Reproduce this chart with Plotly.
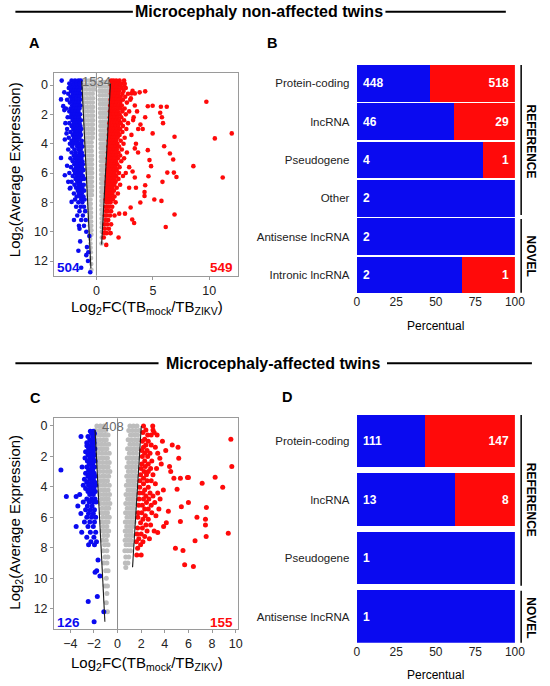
import plotly.graph_objects as go

W, H = 550, 686
FONT = "Liberation Sans, Arial, Helvetica, sans-serif"
BLUE = "#0a0af0"
RED = "#ff0a0a"
GRAY = "#bdbdbd"
NBSP = "\u00a0"

# ---------------- Panel A (volcano-like, non-affected) ----------------
a_gray_rows = [
    (-0.3, [-1.2, -0.92, -0.65, -0.4, -0.2]), (0.0, [-1.18, -0.9, -0.62, -0.38, -0.18]),
    (0.3, [-1.15, -0.88, -0.6, -0.36, -0.2]), (0.6, [-1.12, -0.85, -0.58, -0.33]),
    (0.9, [-1.1, -0.82, -0.55, -0.3]), (1.2, [-1.08, -0.8, -0.55, -0.32]),
    (1.5, [-1.06, -0.8, -0.52, -0.3]), (1.8, [-1.04, -0.76, -0.5, -0.32]),
    (2.1, [-1.02, -0.75, -0.5, -0.3]), (2.4, [-1.0, -0.74, -0.48, -0.3]),
    (2.7, [-0.98, -0.72, -0.47, -0.32]), (3.0, [-0.96, -0.7, -0.46, -0.3]),
    (3.3, [-0.95, -0.7, -0.45, -0.32]), (3.6, [-0.93, -0.68, -0.44, -0.33]),
    (3.9, [-0.92, -0.67, -0.43]), (4.2, [-0.9, -0.65, -0.42]), (4.5, [-0.88, -0.64, -0.42]),
    (4.8, [-0.86, -0.62, -0.4]), (5.1, [-0.85, -0.62, -0.4]), (5.4, [-0.83, -0.6, -0.4]),
    (5.7, [-0.82, -0.6, -0.4]), (6.0, [-0.8, -0.58, -0.38]), (6.3, [-0.78, -0.57, -0.4]),
    (6.6, [-0.76, -0.56, -0.4]), (6.9, [-0.75, -0.55, -0.4]), (7.2, [-0.73, -0.54, -0.4]),
    (7.5, [-0.72, -0.52, -0.4]), (7.8, [-0.7, -0.52]), (8.1, [-0.68, -0.5]), (8.4, [-0.66, -0.5]),
    (8.7, [-0.65, -0.48]), (9.0, [-0.63, -0.48]), (9.3, [-0.61, -0.47]), (9.6, [-0.6, -0.46]),
    (9.9, [-0.58, -0.45]), (10.2, [-0.56, -0.45]), (10.5, [-0.55]), (10.8, [-0.53]),
    (11.1, [-0.52]), (11.4, [-0.5]), (11.8, [-0.48]), (12.2, [-0.46]), (12.6, [-0.45]),
    (-0.2, [0.28, 0.52, 0.78, 1.02, 1.2]), (0.1, [0.27, 0.5, 0.75, 1.0, 1.18]),
    (0.4, [0.28, 0.52, 0.77, 0.98, 1.15]), (0.7, [0.3, 0.55, 0.78, 0.98, 1.13]),
    (1.0, [0.3, 0.53, 0.75, 0.95, 1.1]), (1.3, [0.32, 0.55, 0.76, 0.95, 1.08]),
    (1.6, [0.32, 0.55, 0.75, 0.93, 1.06]), (1.9, [0.33, 0.55, 0.75, 0.92, 1.04]),
    (2.2, [0.34, 0.56, 0.76, 0.92]), (2.5, [0.35, 0.56, 0.75, 0.9]), (2.8, [0.35, 0.56, 0.74, 0.88]),
    (3.1, [0.36, 0.56, 0.74, 0.88]), (3.4, [0.37, 0.56, 0.73, 0.86]), (3.7, [0.37, 0.56, 0.72, 0.85]),
    (4.0, [0.38, 0.56, 0.72, 0.84]), (4.3, [0.38, 0.56, 0.7, 0.82]), (4.6, [0.39, 0.56, 0.7, 0.8]),
    (4.9, [0.4, 0.56, 0.7, 0.8]), (5.2, [0.4, 0.55, 0.68, 0.78]), (5.5, [0.41, 0.55, 0.68]),
    (5.8, [0.41, 0.55, 0.68]), (6.1, [0.42, 0.55, 0.67]), (6.4, [0.42, 0.55, 0.66]),
    (6.7, [0.43, 0.54, 0.65]), (7.0, [0.43, 0.54, 0.64]), (7.3, [0.44, 0.54, 0.63]),
    (7.6, [0.44, 0.54, 0.62]), (7.9, [0.45, 0.54, 0.61]), (8.2, [0.45, 0.55]), (8.5, [0.45, 0.55]),
    (8.8, [0.46, 0.54]), (9.1, [0.46, 0.53]), (9.4, [0.47, 0.53]), (9.7, [0.47]), (10.0, [0.48]),
    (10.4, [0.47]), (10.8, [0.45]),
]

a_blue_rows = [
    (-0.3, [-2.2, -1.9, -1.6, -1.4]), (-0.1, [-2.4, -2.05, -1.75, -1.45]),
    (0.0, [-2.3, -2.0, -1.75, -1.5]), (0.2, [-2.45, -2.15, -1.9, -1.65, -1.42]),
    (0.4, [-2.25, -2.0, -1.8, -1.55]), (0.6, [-2.5, -2.1, -1.85, -1.6, -1.4]),
    (0.8, [-2.3, -2.0, -1.7, -1.5]), (1.0, [-2.6, -2.2, -1.95, -1.75, -1.45]),
    (1.2, [-2.35, -2.05, -1.8, -1.55]), (1.4, [-2.15, -1.9, -1.65, -1.42]),
    (1.6, [-2.7, -2.3, -2.0, -1.72, -1.5]), (1.8, [-2.4, -2.1, -1.85, -1.6]),
    (2.0, [-2.2, -1.95, -1.7, -1.45]), (2.2, [-2.55, -2.3, -2.0, -1.8, -1.55]),
    (2.4, [-2.1, -1.85, -1.6, -1.38]), (2.6, [-2.4, -2.0, -1.75, -1.5]),
    (2.8, [-2.2, -1.9, -1.65, -1.42]), (3.0, [-2.6, -2.05, -1.8, -1.55, -1.35]),
    (3.2, [-2.3, -1.95, -1.7, -1.45]), (3.4, [-2.1, -1.85, -1.6, -1.38]),
    (3.6, [-2.45, -2.0, -1.75, -1.5]), (3.8, [-2.2, -1.9, -1.65, -1.3]),
    (4.0, [-2.35, -2.05, -1.8, -1.55, -1.35]), (4.2, [-2.15, -1.7, -1.45, -1.25]),
    (4.4, [-2.5, -1.95, -1.6, -1.4]), (4.6, [-2.2, -1.85, -1.5, -1.3]),
    (4.8, [-2.0, -1.7, -1.45, -1.22]), (5.0, [-2.3, -1.9, -1.6, -1.35]),
    (5.2, [-2.1, -1.75, -1.5, -1.25]), (5.4, [-1.95, -1.65, -1.4, -1.2]),
    (5.6, [-2.25, -1.8, -1.55, -1.3]), (5.8, [-2.0, -1.7, -1.45, -1.15]),
    (6.0, [-2.4, -1.9, -1.6, -1.35]), (6.2, [-2.1, -1.75, -1.5, -1.2]),
    (6.4, [-1.85, -1.55, -1.3, -1.1]), (6.6, [-2.2, -1.7, -1.45]),
    (6.8, [-1.95, -1.6, -1.35, -1.12]), (7.0, [-2.3, -1.8, -1.5, -1.25]),
    (7.2, [-1.65, -1.4, -1.1]), (7.4, [-2.0, -1.55, -1.3]), (7.6, [-1.75, -1.45, -1.15]),
    (7.8, [-1.9, -1.35, -1.05]), (8.0, [-1.6, -1.25]), (8.3, [-1.8, -1.4, -1.1]),
    (8.6, [-1.5, -1.0]), (8.9, [-1.7, -1.2]), (9.2, [-1.35, -0.95]), (9.6, [-1.55, -1.1]),
    (10.0, [-0.9]),
    (-0.3, [-3.08]), (0.98, [-3.14]), (1.44, [-2.94]), (1.71, [-2.85]), (3.71, [-2.8]),
    (4.97, [-3.14]), (6.15, [-2.8]), (6.6, [-2.5]), (7.06, [-2.36]), (7.97, [-2.2]),
    (9.2, [-1.99]), (9.8, [-1.5]), (10.66, [-1.44]), (11.05, [-0.84]), (11.4, [-0.72]),
    (10.3, [-0.63]), (12.46, [-1.35]), (12.76, [-0.55]), (11.6, [-0.9]), (11.3, [-1.6]),
    (12.0, [-0.75]), (3.3, [-2.65]), (0.5, [-2.85]), (2.6, [-2.75]), (5.5, [-2.6]),
]

a_red_rows = [
    (-0.3, [1.3, 1.5, 1.75, 2.05, 2.45]), (-0.1, [1.35, 1.6, 1.9, 2.2, 2.5]),
    (0.0, [1.3, 1.55, 1.8, 2.1]), (0.2, [1.35, 1.6, 1.9, 2.25, 2.6]),
    (0.4, [1.3, 1.5, 1.75, 2.0, 2.4, 3.2]), (0.6, [1.28, 1.45, 1.7, 1.95, 2.3, 2.8]),
    (0.8, [1.35, 1.6, 1.85, 2.15, 2.55]), (1.0, [1.25, 1.5, 1.75, 2.0, 2.35, 3.0]),
    (1.2, [1.3, 1.55, 1.8, 2.1, 2.7]), (1.4, [1.22, 1.45, 1.7, 1.95, 2.25, 3.4]),
    (1.6, [1.3, 1.55, 1.85, 2.15, 2.5]), (1.8, [1.2, 1.42, 1.65, 1.9, 2.3, 2.9]),
    (2.0, [1.28, 1.5, 1.78, 2.05, 2.6]), (2.2, [1.18, 1.4, 1.62, 1.88, 2.2, 3.3]),
    (2.4, [1.25, 1.5, 1.75, 2.0, 2.45]), (2.6, [1.15, 1.38, 1.6, 1.85, 2.15, 2.8]),
    (2.8, [1.22, 1.45, 1.7, 1.95, 2.35]), (3.0, [1.12, 1.35, 1.55, 1.8, 2.1, 2.65]),
    (3.2, [1.2, 1.42, 1.65, 1.9, 2.3]), (3.4, [1.1, 1.3, 1.52, 1.78, 2.05, 3.1]),
    (3.6, [1.18, 1.4, 1.62, 1.88, 2.5]), (3.8, [1.08, 1.28, 1.5, 1.75, 2.15]),
    (4.0, [1.15, 1.35, 1.58, 1.85, 2.4, 3.5]), (4.2, [1.05, 1.25, 1.45, 1.7, 2.0]),
    (4.4, [1.12, 1.32, 1.55, 1.8, 2.25]), (4.6, [1.02, 1.22, 1.42, 1.65, 1.95, 2.7]),
    (4.8, [1.1, 1.3, 1.5, 1.75, 2.1]), (5.0, [1.0, 1.2, 1.4, 1.6, 1.9, 2.45]),
    (5.2, [1.08, 1.28, 1.48, 1.72, 2.2]), (5.4, [0.98, 1.15, 1.35, 1.58, 1.85]),
    (5.6, [1.05, 1.25, 1.45, 1.68, 2.05, 2.9]), (5.8, [0.95, 1.12, 1.32, 1.55, 1.8]),
    (6.0, [1.02, 1.2, 1.4, 1.62, 2.0]), (6.2, [0.92, 1.1, 1.3, 1.5, 1.75, 2.35]),
    (6.4, [0.98, 1.18, 1.38, 1.6, 1.95]), (6.6, [0.9, 1.05, 1.25, 1.45, 1.7]),
    (6.8, [0.95, 1.15, 1.35, 1.58, 2.1]), (7.0, [0.88, 1.02, 1.22, 1.42, 1.8]),
    (7.2, [0.92, 1.1, 1.3, 1.55]), (7.4, [0.85, 1.0, 1.2, 1.4, 1.9]),
    (7.6, [0.9, 1.08, 1.28, 1.6]), (7.8, [0.82, 0.98, 1.15, 1.45]),
    (8.0, [0.88, 1.05, 1.25, 1.7]), (8.3, [0.8, 0.95, 1.15, 1.4]),
    (8.6, [0.85, 1.02, 1.3]), (8.9, [0.75, 0.92, 1.2, 1.6]), (9.2, [0.8, 1.05]),
    (9.5, [0.72, 0.95, 1.3]), (9.8, [0.75, 1.1]), (10.1, [0.68, 0.9, 1.24]), (10.4, [0.65, 1.96]),
    (10.9, [0.87]),
    (0.0, [2.47]), (0.57, [3.11, 3.4]), (0.5, [3.83]), (0.43, [4.32]), (0.91, [3.05]),
    (1.14, [9.74]), (1.48, [5.71, 6.23]), (1.41, [4.98]), (1.45, [4.55]), (1.89, [5.65]),
    (2.2, [5.8, 4.32]), (2.6, [5.9]), (3.3, [4.98, 11.99]), (3.53, [6.92]), (2.39, [3.25]),
    (3.64, [10.49]), (4.17, [6.0]), (4.67, [6.51]), (5.08, [6.8]), (5.53, [8.59, 4.84]),
    (5.97, [6.28, 6.86]), (4.44, [4.55]), (5.12, [4.7]), (4.32, [3.4]), (4.6, [3.69]),
    (6.31, [11.19, 3.4]), (6.27, [7.09]), (6.6, [5.85]), (6.22, [4.61]), (6.83, [4.32]),
    (7.29, [4.26]), (7.81, [5.13]), (7.9, [5.76]), (7.57, [4.26]), (8.01, [3.89]),
    (8.83, [6.92]), (9.68, [6.14]), (9.41, [3.34]), (9.17, [3.17]), (8.35, [3.03]),
    (8.77, [2.53, 2.02]), (10.09, [1.24]), (3.0, [3.7, 4.1]), (1.8, [3.6]), (2.7, [3.9]),
    (5.9, [3.2]), (7.0, [2.9, 3.5]), (6.0, [2.6]),
]
a_line_left_x = [-1.3, -0.49]
a_line_left_y = [-0.3, 12.5]
a_line_right_x = [1.24, 0.46]
a_line_right_y = [-0.1, 10.87]
a_counts = {"gray": "1534", "blue": "504", "red": "549"}

# ---------------- Panel C (volcano-like, affected) ----------------
c_gray_rows = [
    (0.0, [-1.75, -1.45, -1.15]), (0.3, [-1.85, -1.55, -1.3, -1.0]), (0.6, [-1.7, -1.4, -1.1, -0.8]),
    (0.9, [-1.8, -1.5, -1.2, -0.95]), (1.2, [-1.65, -1.35, -1.05, -0.75]), (1.5, [-1.75, -1.45, -1.2, -0.9]),
    (1.8, [-1.6, -1.3, -1.0, -0.7]), (2.1, [-1.7, -1.4, -1.15, -0.85]), (2.4, [-1.55, -1.25, -0.95, -0.7]),
    (2.7, [-1.65, -1.35, -1.1, -0.8]), (3.0, [-1.5, -1.2, -0.9, -0.65]), (3.3, [-1.6, -1.3, -1.05, -0.75]),
    (3.6, [-1.45, -1.15, -0.85]), (3.9, [-1.55, -1.25, -1.0, -0.7]), (4.2, [-1.4, -1.1, -0.8]),
    (4.5, [-1.5, -1.2, -0.95, -0.68]), (4.8, [-1.35, -1.05, -0.78]), (5.1, [-1.45, -1.15, -0.9, -0.65]),
    (5.4, [-1.3, -1.0, -0.75]), (5.7, [-1.4, -1.1, -0.85]), (6.0, [-1.25, -0.95, -0.7]),
    (6.3, [-1.35, -1.05, -0.8]), (6.6, [-1.2, -0.9]), (6.9, [-1.3, -1.0, -0.75]), (7.2, [-1.15, -0.85]),
    (7.5, [-1.25, -0.95]), (7.8, [-1.1, -0.8]), (8.2, [-1.2, -0.9]), (8.6, [-1.05, -0.82]),
    (9.0, [-1.15, -0.9]), (9.5, [-1.0, -0.8]), (10.0, [-0.95]), (10.5, [-1.05, -0.85]),
    (11.0, [-0.9]), (11.6, [-0.95]), (12.2, [-0.85]),
    (0.0, [1.05, 1.35, 1.65]), (0.3, [0.95, 1.25, 1.55, 1.85]), (0.6, [1.1, 1.4, 1.7]),
    (0.9, [0.9, 1.2, 1.5, 1.8]), (1.2, [1.05, 1.35, 1.65]), (1.5, [0.85, 1.15, 1.45, 1.72]),
    (1.8, [1.0, 1.3, 1.6]), (2.1, [0.82, 1.1, 1.4, 1.68]), (2.4, [0.95, 1.25, 1.55]),
    (2.7, [0.8, 1.1, 1.38, 1.62]), (3.0, [0.92, 1.2, 1.5]), (3.3, [0.78, 1.05, 1.32, 1.58]),
    (3.6, [0.9, 1.18, 1.45]), (3.9, [0.75, 1.02, 1.3, 1.55]), (4.2, [0.88, 1.15, 1.42]),
    (4.5, [0.72, 1.0, 1.28, 1.5]), (4.8, [0.85, 1.12, 1.38]), (5.1, [0.7, 0.98, 1.25, 1.47]),
    (5.4, [0.82, 1.1, 1.35]), (5.7, [0.68, 0.95, 1.22, 1.42]), (6.0, [0.8, 1.08, 1.32]),
    (6.3, [0.66, 0.92, 1.18, 1.4]), (6.6, [0.78, 1.05, 1.28]), (6.9, [0.65, 0.9, 1.15]),
    (7.2, [0.75, 1.0, 1.25]), (7.5, [0.64, 0.88, 1.12]), (7.8, [0.72, 0.98, 1.2]),
    (8.2, [0.62, 0.85, 1.1]), (8.6, [0.7, 0.95]), (9.0, [0.66, 0.88]), (9.3, [0.7]),
]

c_blue_rows = [
    (0.35, [-2.3, -2.05]), (0.5, [-2.2, -1.95]), (0.7, [-3.09, -2.5, -2.1]), (0.9, [-2.35, -2.0]),
    (1.1, [-2.6, -2.2, -1.98]), (1.3, [-2.59, -2.3, -2.05]), (1.5, [-2.45, -2.15, -1.92]),
    (1.7, [-2.7, -2.3, -2.05]), (1.9, [-2.5, -2.2, -1.95]), (2.1, [-2.75, -2.35, -2.08]),
    (2.3, [-2.55, -2.25, -1.9]), (2.5, [-2.4, -2.1]), (2.7, [-3.0, -2.6, -2.2, -1.95]),
    (2.9, [-4.79, -2.45, -2.1]), (3.1, [-2.7, -2.3, -1.98]), (3.3, [-2.5, -2.15, -1.9]),
    (3.5, [-2.8, -2.35, -2.05]), (3.7, [-2.6, -2.2, -1.92]), (3.9, [-2.9, -2.45, -2.1, -1.85]),
    (4.1, [-2.7, -2.3, -2.0]), (4.3, [-2.5, -2.15, -1.88]), (4.5, [-3.2, -2.35, -2.05]),
    (4.64, [-4.33, -3.5]), (4.8, [-2.6, -2.2, -1.9]), (5.0, [-2.9, -2.4, -2.05, -1.82]),
    (5.25, [-3.36, -2.55, -2.15]), (5.5, [-2.7, -2.3, -1.95]), (5.75, [-3.1, -2.45, -2.05]),
    (6.0, [-2.6, -2.2, -1.85]), (6.3, [-2.8, -2.35, -1.95]), (6.61, [-3.5, -2.5, -2.05]),
    (6.98, [-3.03, -2.3, -1.85]), (7.3, [-2.6, -2.0]), (7.6, [-2.25, -1.78]), (7.8, [-2.45, -1.95]),
    (8.8, [-1.65]), (9.5, [-1.76]), (9.85, [-1.49]), (9.6, [-1.9]), (11.2, [-1.71]),
    (11.53, [-2.48]), (12.19, [-1.16]), (12.85, [-1.98]),
]

c_red_rows = [
    (0.0, [2.98, 2.2]), (0.26, [3.0, 2.4]), (0.44, [3.1, 2.15]), (0.6, [2.55, 2.85, 3.35]),
    (0.88, [9.59, 2.3]), (1.0, [2.1, 2.6, 3.8]), (1.25, [4.63, 2.4, 2.85]), (1.4, [5.12, 2.2, 3.2]),
    (1.62, [4.08, 2.05, 2.5]), (1.8, [2.3, 2.75, 3.4]), (2.0, [2.1, 2.55]), (2.12, [3.58, 5.18]),
    (2.3, [2.3, 2.9]), (2.5, [2.05, 2.6, 3.7]), (2.67, [9.67, 2.35, 4.4]), (2.8, [2.0, 2.8, 3.3]),
    (3.0, [2.25, 2.6, 4.5]), (3.2, [1.95, 2.45, 3.0]), (3.39, [5.92, 6.0]), (3.44, [4.77, 5.32, 2.2]),
    (3.37, [8.26]), (3.6, [1.9, 2.5, 2.85]), (3.76, [7.16]), (3.8, [2.2, 3.2]),
    (4.03, [8.9, 1.88, 2.6]), (4.16, [5.04]), (4.2, [3.88, 2.3]), (4.4, [1.85, 2.15, 2.75, 3.4]),
    (4.6, [2.4, 3.0]), (4.8, [1.82, 2.2, 2.65, 3.6]), (5.03, [6.0, 2.45, 3.15]),
    (5.2, [1.8, 2.1, 2.85]), (5.3, [5.4]), (5.36, [7.52]), (5.45, [2.3, 2.6, 3.5]),
    (5.6, [4.3]), (5.7, [1.75, 2.05, 2.9]), (5.9, [2.35, 3.25]), (6.0, [6.72, 1.72]),
    (6.13, [7.44, 2.15, 2.6]), (6.28, [5.32]), (6.35, [4.13, 1.95]), (6.5, [7.44, 2.4, 2.8]),
    (6.6, [3.9]), (6.7, [1.7, 2.1]), (6.9, [2.5, 3.1]), (7.0, [3.4]), (7.05, [9.37]),
    (7.1, [1.65, 2.0]), (7.26, [7.5, 2.3]), (7.4, [1.8, 2.7]), (7.53, [6.56]), (7.6, [1.6, 2.15]),
    (7.8, [1.95]), (8.03, [4.9, 1.7]), (8.18, [5.54]), (8.47, [1.63, 2.0]), (9.12, [5.68]),
    (9.23, [6.42]),
]
c_line_left_x = [-1.9, -1.07]
c_line_left_y = [0.26, 12.85]
c_line_right_x = [2.01, 1.27]
c_line_right_y = [0.0, 9.28]
c_counts = {"gray": "408", "blue": "126", "red": "155"}

# ---------------- Panels B and D (stacked percentage bars) ----------------
b_categories = ["Protein-coding", "lncRNA", "Pseudogene", "Other", "Antisense lncRNA", "Intronic lncRNA"]
b_down = [448, 46, 4, 2, 2, 2]
b_up = [518, 29, 1, 0, 0, 1]
d_categories = ["Protein-coding", "lncRNA", "Pseudogene", "Antisense lncRNA"]
d_down = [111, 13, 1, 1]
d_up = [147, 8, 0, 0]
x_ticks_bar = [0, 25, 50, 75, 100]


def flat(rows):
    xs, ys = [], []
    for y, row in rows:
        for x in row:
            xs.append(x)
            ys.append(y)
    return xs, ys


def px(x):
    return x / W


def py(y):
    return 1 - y / H


fig = go.Figure()


def add_volcano(gray_rows, blue_rows, red_rows, llx, lly, lrx, lry, xa, ya, size):
    for rows, col in ((gray_rows, GRAY), (blue_rows, BLUE), (red_rows, RED)):
        xs, ys = flat(rows)
        fig.add_trace(go.Scatter(x=xs, y=ys, mode="markers", xaxis=xa, yaxis=ya,
                                 marker=dict(color=col, size=size, line=dict(width=0)),
                                 showlegend=False, hoverinfo="skip"))
    for lx, ly in ((llx, lly), (lrx, lry)):
        fig.add_trace(go.Scatter(x=lx, y=ly, mode="lines", xaxis=xa, yaxis=ya,
                                 line=dict(color="#1a1a1a", width=1.1),
                                 showlegend=False, hoverinfo="skip"))


add_volcano(a_gray_rows, a_blue_rows, a_red_rows, a_line_left_x, a_line_left_y,
            a_line_right_x, a_line_right_y, "x", "y", 4.6)
add_volcano(c_gray_rows, c_blue_rows, c_red_rows, c_line_left_x, c_line_left_y,
            c_line_right_x, c_line_right_y, "x3", "y3", 5)


def add_bars(cats, down, up, xa, ya, width):
    tot = [a + b for a, b in zip(down, up)]
    pd_ = [100 * a / t for a, t in zip(down, tot)]
    pu_ = [100 * b / t for b, t in zip(up, tot)]
    fig.add_trace(go.Bar(y=cats, x=pd_, orientation="h", xaxis=xa, yaxis=ya, width=width,
                         marker=dict(color=BLUE, line=dict(width=0)),
                         text=[NBSP + str(v) for v in down], textposition="inside",
                         insidetextanchor="start",
                         insidetextfont=dict(color="white", size=12, family=FONT, weight="bold"),
                         showlegend=False, hoverinfo="skip"))
    fig.add_trace(go.Bar(y=cats, x=pu_, orientation="h", xaxis=xa, yaxis=ya, width=width,
                         marker=dict(color=RED, line=dict(width=0)),
                         text=[str(v) + NBSP if v > 0 else "" for v in up], textposition="inside",
                         insidetextanchor="end",
                         insidetextfont=dict(color="white", size=12, family=FONT, weight="bold"),
                         showlegend=False, hoverinfo="skip"))


add_bars(b_categories, b_down, b_up, "x2", "y2", 0.953)
add_bars(d_categories, d_down, d_up, "x4", "y4", 0.896)

tickfont = dict(family=FONT, size=12.5, color="#222")
vol_axis = dict(showline=True, mirror=True, linecolor="#9a9a9a", linewidth=1, ticks="outside",
                ticklen=3, tickcolor="#9a9a9a", showgrid=False, zeroline=False, tickfont=tickfont)
bar_x = dict(range=[0, 100], tickvals=x_ticks_bar, showline=False, showgrid=False, zeroline=False,
             ticks="", tickfont=dict(family=FONT, size=12, color="#222"))
bar_y = dict(type="category", showline=False, showgrid=False, zeroline=False, ticks="outside",
             ticklen=4, tickcolor="rgba(0,0,0,0)", tickfont=dict(family=FONT, size=11.5, color="#222"))

fig.update_layout(
    width=W, height=H, margin=dict(l=0, r=0, t=0, b=0),
    paper_bgcolor="white", plot_bgcolor="white", barmode="stack",
    font=dict(family=FONT),
    xaxis=dict(domain=[px(52.7), px(241)], range=[-3.72, 12.57], tickvals=[0, 5, 10], anchor="y", **vol_axis),
    yaxis=dict(domain=[py(275.7), py(72.7)], range=[13.0, -0.84], tickvals=[0, 2, 4, 6, 8, 10, 12], anchor="x", **vol_axis),
    xaxis3=dict(domain=[px(52.3), px(241)], range=[-5.37, 10.22], tickvals=[-4, -2, 0, 2, 4, 6, 8, 10], anchor="y3", **vol_axis),
    yaxis3=dict(domain=[py(629.3), py(418.3)], range=[13.35, -0.5], tickvals=[0, 2, 4, 6, 8, 10, 12], anchor="x3", **vol_axis),
    xaxis2=dict(domain=[px(362.3), px(524.3)], anchor="y2", **bar_x),
    yaxis2=dict(domain=[py(293.3), py(65)], anchor="x2", categoryorder="array", categoryarray=b_categories,
                range=[len(b_categories) - 1 + 0.4765, -0.4765], **bar_y),
    xaxis4=dict(domain=[px(362.3), px(524.3)], anchor="y4", **bar_x),
    yaxis4=dict(domain=[py(642.7), py(415)], anchor="x4", categoryorder="array", categoryarray=d_categories,
                range=[len(d_categories) - 1 + 0.448, -0.448], **bar_y),
)

shapes = []
for xr, yr in (("x", "y domain"), ("x3", "y3 domain")):
    shapes.append(dict(type="line", xref=xr, yref=yr, x0=0, x1=0, y0=0, y1=1,
                       line=dict(color="#8c8c8c", width=1), layer="below"))
for x0, x1, y in ((12.7, 133, 11.7), (391.7, 515, 11.7), (12.7, 159.3, 363.3), (393.3, 541.7, 363.3)):
    shapes.append(dict(type="line", xref="paper", yref="paper", x0=px(x0), x1=px(x1), y0=py(y), y1=py(y),
                       line=dict(color="black", width=2)))
for y0, y1 in ((65, 215), (219, 292.7), (415, 585.7), (590.7, 642.7)):
    shapes.append(dict(type="line", xref="paper", yref="paper", x0=px(530.7), x1=px(530.7), y0=py(y0), y1=py(y1),
                       line=dict(color="black", width=1.5)))
fig.update_layout(shapes=shapes)

ann = []


def t(x, y, text, size, bold=False, color="black", angle=0, xanchor="center"):
    ann.append(dict(x=px(x), y=py(y), xref="paper", yref="paper", text=text, showarrow=False,
                    textangle=angle, xanchor=xanchor, yanchor="middle",
                    font=dict(family=FONT, size=size, color=color, weight="bold" if bold else "normal")))


t(262.5, 11.7, "Microcephaly non-affected twins", 16, True)
t(276.5, 363.3, "Microcephaly-affected twins", 16, True)
t(32, 43, "A", 14.5, True)
t(275.7, 43, "B", 14.5, True)
t(33, 398, "C", 14.5, True)
t(291, 397, "D", 14.5, True)
ylab = "Log<sub>2</sub>(Average Expression)"
xlab = "Log<sub>2</sub>FC(TB<sub>mock</sub>/TB<sub>ZIKV</sub>)"
t(12.5, 170, ylab, 15, angle=-90)
t(12, 522, ylab, 15, angle=-90)
t(147, 307, xlab, 15)
t(147, 663, xlab, 15)
t(443, 326, "Percentual", 12)
t(443, 675, "Percentual", 12)
t(541, 141.7, "REFERENCE", 12, True, angle=90)
t(541, 255.8, "NOVEL", 12, True, angle=90)
t(541, 500, "REFERENCE", 12, True, angle=90)
t(541, 617.5, "NOVEL", 12, True, angle=90)


def td(xa, ya, x, y, text, size, color, bold=False, xanchor="center"):
    ann.append(dict(x=x, y=y, xref=xa, yref=ya, text=text, showarrow=False, xanchor=xanchor,
                    yanchor="middle", font=dict(family=FONT, size=size, color=color,
                                                weight="bold" if bold else "normal")))


td("x", "y", 0, -0.27, a_counts["gray"], 13, "#6a6a6a")
td("x", "y", -2.48, 12.46, a_counts["blue"], 13.5, BLUE, True)
td("x", "y", 12.31, 12.46, a_counts["red"], 13.5, RED, True, "right")
td("x3", "y3", -0.37, 0.05, c_counts["gray"], 13, "#6a6a6a")
td("x3", "y3", -4.16, 12.9, c_counts["blue"], 13.5, BLUE, True)
td("x3", "y3", 9.98, 12.9, c_counts["red"], 13.5, RED, True, "right")

fig.update_layout(annotations=ann)
fig.write_html("out.html", config={"displayModeBar": False},
               post_script="document.body.style.margin='0';document.body.style.overflow='hidden';")
